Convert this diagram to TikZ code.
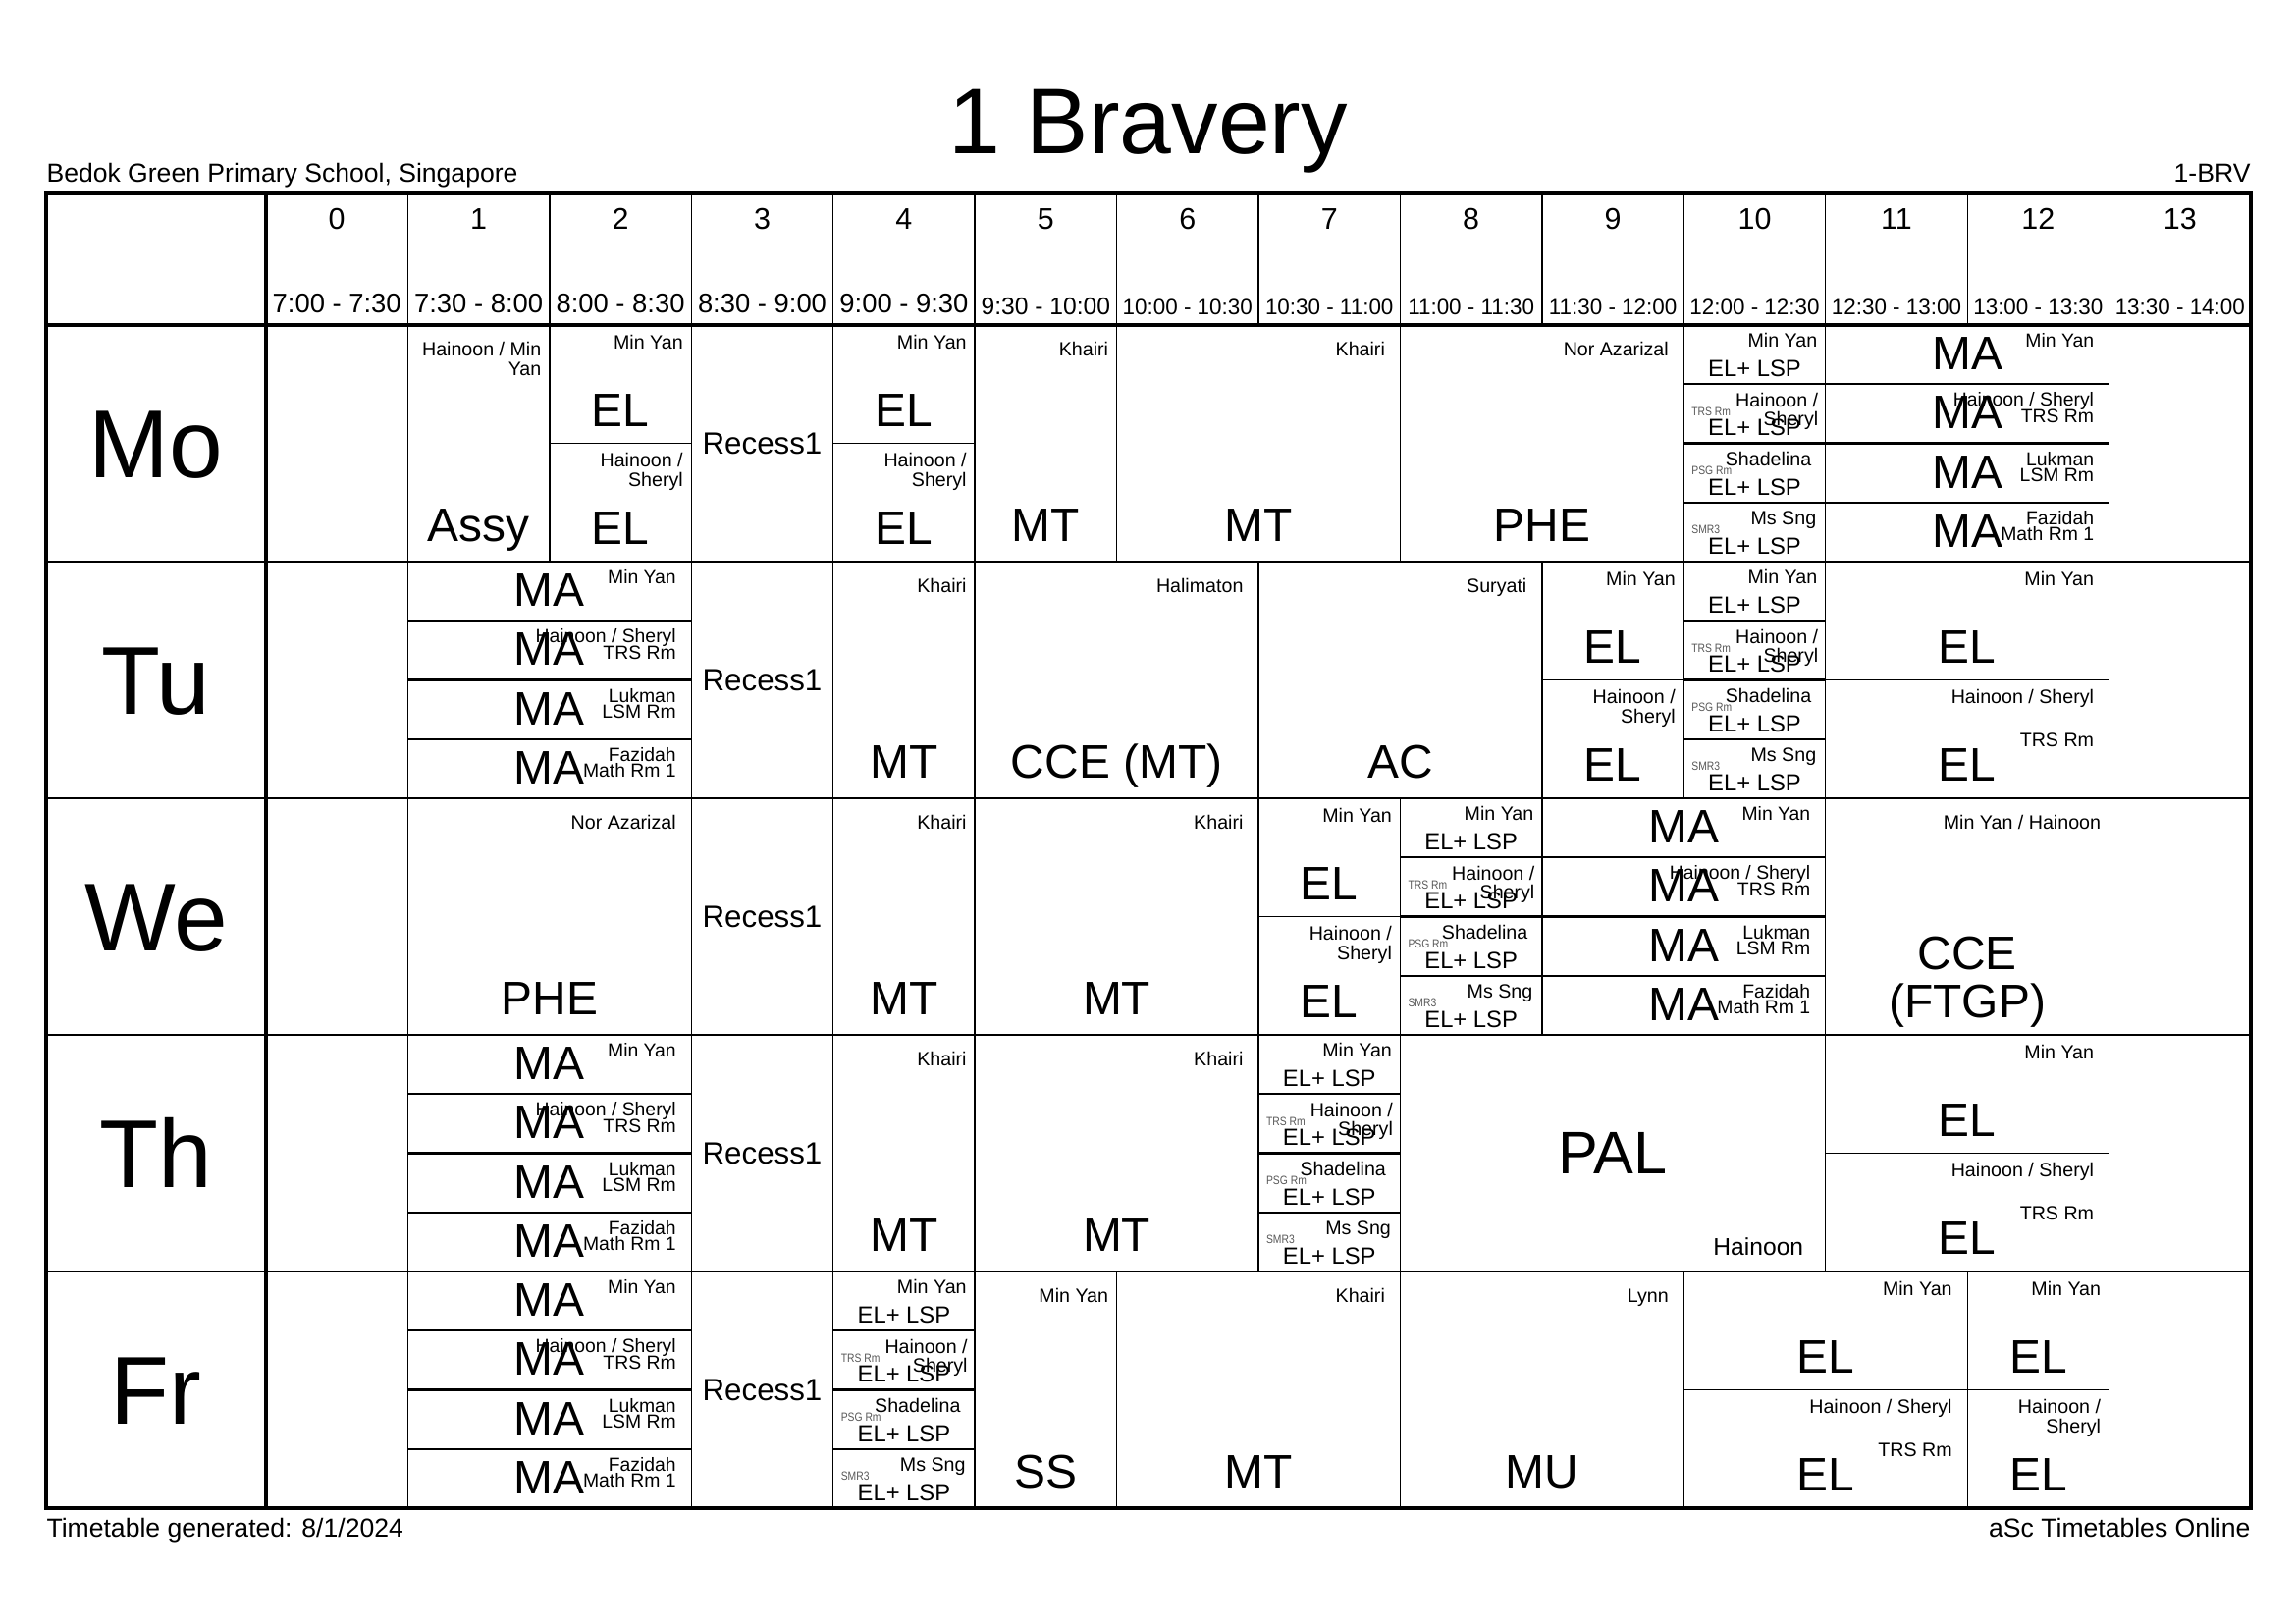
\documentclass[tikz,border=0pt]{standalone}
\usepackage{fontspec}
\setmainfont{Liberation Sans}
\newfontfamily\roomfont{Liberation Sans}[FakeStretch=0.85]

% edges of the grid, in pixels of the sheet
\newcommand\colx[1]{271+144.43*(#1)}
\newcommand\rowy[1]{331+241*(#1)}

% lesson over the whole row: name, row, col, span, teacher, subject
\newcommand\fullcell[6]{%
  \pgfmathsetmacro\cxa{\colx{#3}}%
  \pgfmathsetmacro\cxb{\colx{#3+#4}}%
  \pgfmathsetmacro\cya{\rowy{#2}}%
  \pgfmathsetmacro\cpad{1+7*#4}%
  \draw[grid] (\cxa,\cya) rectangle (\cxb,{\cya+241});
  \node[teacher] (#1-t) at ({\cxb-\cpad},{\cya+17}) {#5};
  \node[subject] (#1-s) at ({(\cxa+\cxb)/2},{\cya+220}) {#6};
}
% half of a row: name, row, col, span, part, teacher, subject, room
\newcommand\halfcell[8]{%
  \pgfmathsetmacro\cxa{\colx{#3}}%
  \pgfmathsetmacro\cxb{\colx{#3+#4}}%
  \pgfmathsetmacro\cya{\rowy{#2}+120.5*#5}%
  \pgfmathsetmacro\cpad{1+7*#4}%
  \draw[grid] (\cxa,\cya) rectangle (\cxb,{\cya+120.5});
  \node[teacher] (#1-t) at ({\cxb-\cpad},{\cya+9.5}) {#6};
  \node[subject] (#1-s) at ({(\cxa+\cxb)/2},{\cya+103}) {#7};
  \if\relax\detokenize{#8}\relax\else
    \node[teacher] (#1-r) at ({\cxb-\cpad},{\cya+54}) {#8};
  \fi
}
% quarter of EL+ LSP: name, row, col, part, teacher, room, pad
\newcommand\lspquarter[7]{%
  \pgfmathsetmacro\cxa{\colx{#3}}%
  \pgfmathsetmacro\cxb{\colx{#3+1}}%
  \pgfmathsetmacro\cya{\rowy{#2}+60.25*#4}%
  \draw[grid] (\cxa,\cya) rectangle (\cxb,{\cya+60.25});
  \node[teachl] (#1-t) at ({\cxb-#7},{\cya+8}) {#5};
  \node[lsp] (#1-s) at ({(\cxa+\cxb)/2},{\cya+52.7}) {EL+ LSP};
  \if\relax\detokenize{#6}\relax\else
    \node[room] (#1-r) at ({\cxa+7.5},{\cya+32}) {#6};
  \fi
}
\newcommand\lspblock[3]{%
  \lspquarter{#1a}{#2}{#3}{0}{Min Yan}{}{8}
  \lspquarter{#1b}{#2}{#3}{1}{Hainoon /\\Sheryl}{TRS Rm}{7}
  \lspquarter{#1c}{#2}{#3}{2}{Shadelina}{PSG Rm}{14}
  \lspquarter{#1d}{#2}{#3}{3}{Ms Sng}{SMR3}{9}
  \foreach \q in {1,2,3}
    \draw[split] ({\colx{#3}},{\rowy{#2}+60.25*\q}) -- ({\colx{#3+1}},{\rowy{#2}+60.25*\q});
}
% quarter of MA over two periods: name, row, col, part, teacher
\newcommand\maquarter[5]{%
  \pgfmathsetmacro\cxa{\colx{#3}}%
  \pgfmathsetmacro\cxb{\colx{#3+2}}%
  \pgfmathsetmacro\cya{\rowy{#2}+60.25*#4}%
  \draw[grid] (\cxa,\cya) rectangle (\cxb,{\cya+60.25});
  \node[subject] (#1-s) at ({(\cxa+\cxb)/2},{\cya+45.6}) {MA};
  \node[teachq] (#1-t) at ({\cxb-15},{\cya+8}) {#5};
}
\newcommand\mablock[3]{%
  \maquarter{#1a}{#2}{#3}{0}{Min Yan}
  \maquarter{#1b}{#2}{#3}{1}{Hainoon / Sheryl\\TRS Rm}
  \maquarter{#1c}{#2}{#3}{2}{Lukman\\LSM Rm}
  \maquarter{#1d}{#2}{#3}{3}{Fazidah\\Math Rm 1}
  \foreach \q in {1,2,3}
    \draw[split] ({\colx{#3}},{\rowy{#2}+60.25*\q}) -- ({\colx{#3+2}},{\rowy{#2}+60.25*\q});
}
\newcommand\recess[2]{%
  \pgfmathsetmacro\cya{\rowy{#2}}%
  \draw[grid] ({\colx{3}},\cya) rectangle ({\colx{4}},{\cya+241});
  \node[brk] (#1) at ({\colx{3}+72.2},{\cya+131}) {Recess1};
}

\begin{document}
\begin{tikzpicture}[x=0.127mm, y=-0.127mm,
  grid/.style = {line width=0.5pt},
  split/.style = {line width=0.8pt},
  frame/.style = {line width=1.2pt},
  txt/.style = {inner sep=0pt},
  teacher/.style = {txt, anchor=north east, align=right, font={\fontsize{7.1}{7}\selectfont\lineskiplimit=-9pt}},
  teachl/.style = {teacher, font={\fontsize{7.1}{6.9}\selectfont\lineskiplimit=-9pt}},
  teachq/.style = {teacher, font={\fontsize{7}{6}\selectfont\lineskiplimit=-9pt}},
  room/.style = {txt, anchor=base west, text=black!65, font=\roomfont\fontsize{4.4}{5}\selectfont},
  subject/.style = {txt, anchor=base, font=\fontsize{17.3}{18}\selectfont},
  lsp/.style = {txt, anchor=base, font=\fontsize{8.6}{9}\selectfont},
  brk/.style = {txt, anchor=base, font=\fontsize{11.3}{12}\selectfont},
  day/.style = {txt, anchor=base, font=\fontsize{35.5}{36}\selectfont},
  period/.style = {txt, anchor=base, font=\fontsize{11}{12}\selectfont},
  slot/.style = {txt, anchor=base, font=\fontsize{9.9}{10}\selectfont},
  note/.style = {txt, font=\fontsize{9.6}{10}\selectfont}]
\useasboundingbox (0,0) rectangle (2339,1653);
\fill[white] (0,0) rectangle (2339,1653);

% heading
\node[txt, anchor=base, font=\fontsize{34.3}{36}\selectfont] (title) at (1170,156) {1 Bravery};
\node[note, anchor=base west] (school) at (47,185) {Bedok Green Primary School, Singapore};
\node[note, anchor=base east] (code) at (2293,185) {1-BRV};
\node[note, anchor=base west] (made) at (47,1565) {Timetable generated: 8/1/2024};
\node[note, anchor=base east] (maker) at (2293,1565) {aSc Timetables Online};

% periods
\foreach \i in {1,...,13}
  \draw[grid] ({\colx{\i}},197) -- ({\colx{\i}},331);
\foreach \i in {0,...,13}
  \node[period] (per\i) at ({\colx{\i}+72.2},233.5) {\i};
\foreach \t [count=\i from 0] in {7:00 - 7:30,7:30 - 8:00,8:00 - 8:30,8:30 - 9:00,9:00 - 9:30}
  \node[slot] (time\i) at ({\colx{\i}+72.2},318.8) {\t};
\node[slot, font=\fontsize{8.9}{10}\selectfont] (time5) at ({\colx{5}+72.2},320) {9:30 - 10:00};
\foreach \t [count=\i from 6] in {10:00 - 10:30,10:30 - 11:00,11:00 - 11:30,11:30 - 12:00,12:00 - 12:30,12:30 - 13:00,13:00 - 13:30,13:30 - 14:00}
  \node[slot, font=\fontsize{8.1}{9}\selectfont] (time\i) at ({\colx{\i}+72.2},320) {\t};

% days and empty periods
\foreach \d [count=\r from 0] in {Mo,Tu,We,Th,Fr} {
  \node[day] (day\d) at (159,{\rowy{\r}+155.5}) {\d};
  \draw[grid] (47,{\rowy{\r}}) -- (271,{\rowy{\r}});
  \draw[grid] ({\colx{0}},{\rowy{\r}}) rectangle ({\colx{1}},{\rowy{\r+1}});
  \draw[grid] ({\colx{13}},{\rowy{\r}}) rectangle ({\colx{14}},{\rowy{\r+1}});
}

% Monday
\fullcell{mo1}{0}{1}{1}{Hainoon / Min\\Yan}{Assy}
\halfcell{mo2a}{0}{2}{1}{0}{Min Yan}{EL}{}
\halfcell{mo2b}{0}{2}{1}{1}{Hainoon /\\Sheryl}{EL}{}
\recess{mo3}{0}
\halfcell{mo4a}{0}{4}{1}{0}{Min Yan}{EL}{}
\halfcell{mo4b}{0}{4}{1}{1}{Hainoon /\\Sheryl}{EL}{}
\fullcell{mo5}{0}{5}{1}{Khairi}{MT}
\fullcell{mo6}{0}{6}{2}{Khairi}{MT}
\fullcell{mo8}{0}{8}{2}{Nor Azarizal}{PHE}
\lspblock{mo10}{0}{10}
\mablock{mo11}{0}{11}

% Tuesday
\mablock{tu1}{1}{1}
\recess{tu3}{1}
\fullcell{tu4}{1}{4}{1}{Khairi}{MT}
\fullcell{tu5}{1}{5}{2}{Halimaton}{CCE (MT)}
\fullcell{tu7}{1}{7}{2}{Suryati}{AC}
\halfcell{tu9a}{1}{9}{1}{0}{Min Yan}{EL}{}
\halfcell{tu9b}{1}{9}{1}{1}{Hainoon /\\Sheryl}{EL}{}
\lspblock{tu10}{1}{10}
\halfcell{tu11a}{1}{11}{2}{0}{Min Yan}{EL}{}
\halfcell{tu11b}{1}{11}{2}{1}{Hainoon / Sheryl}{EL}{TRS Rm}

% Wednesday
\fullcell{we1}{2}{1}{2}{Nor Azarizal}{PHE}
\recess{we3}{2}
\fullcell{we4}{2}{4}{1}{Khairi}{MT}
\fullcell{we5}{2}{5}{2}{Khairi}{MT}
\halfcell{we7a}{2}{7}{1}{0}{Min Yan}{EL}{}
\halfcell{we7b}{2}{7}{1}{1}{Hainoon /\\Sheryl}{EL}{}
\lspblock{we8}{2}{8}
\mablock{we9}{2}{9}
\draw[grid] ({\colx{11}},{\rowy{2}}) rectangle ({\colx{13}},{\rowy{3}});
\node[teacher] (we11-t) at ({\colx{13}-8},{\rowy{2}+17}) {Min Yan / Hainoon};
\node[subject, anchor=south, align=center, font=\fontsize{17.3}{17.9}\selectfont] (we11-s) at ({\colx{12}},{\rowy{3}-7}) {CCE\\(FTGP)};

% Thursday
\mablock{th1}{3}{1}
\recess{th3}{3}
\fullcell{th4}{3}{4}{1}{Khairi}{MT}
\fullcell{th5}{3}{5}{2}{Khairi}{MT}
\lspblock{th7}{3}{7}
\draw[grid] ({\colx{8}},{\rowy{3}}) rectangle ({\colx{11}},{\rowy{4}});
\node[subject, anchor=center, font=\fontsize{22.1}{24}\selectfont] (th8-s) at ({(\colx{8}+\colx{11})/2},{\rowy{3}+120.5}) {PAL};
\node[txt, anchor=base east, font=\fontsize{8.9}{9}\selectfont] (th8-t) at ({\colx{11}-22},{\rowy{4}-17}) {Hainoon};
\halfcell{th11a}{3}{11}{2}{0}{Min Yan}{EL}{}
\halfcell{th11b}{3}{11}{2}{1}{Hainoon / Sheryl}{EL}{TRS Rm}

% Friday
\mablock{fr1}{4}{1}
\recess{fr3}{4}
\lspblock{fr4}{4}{4}
\fullcell{fr5}{4}{5}{1}{Min Yan}{SS}
\fullcell{fr6}{4}{6}{2}{Khairi}{MT}
\fullcell{fr8}{4}{8}{2}{Lynn}{MU}
\halfcell{fr10a}{4}{10}{2}{0}{Min Yan}{EL}{}
\halfcell{fr10b}{4}{10}{2}{1}{Hainoon / Sheryl}{EL}{TRS Rm}
\halfcell{fr12a}{4}{12}{1}{0}{Min Yan}{EL}{}
\halfcell{fr12b}{4}{12}{1}{1}{Hainoon /\\Sheryl}{EL}{}

% outer frame
\draw[frame] (47,197) rectangle (2293,1536);
\draw[frame] (47,331) -- (2293,331);
\draw[frame] (271,197) -- (271,1536);
\end{tikzpicture}
\end{document}
